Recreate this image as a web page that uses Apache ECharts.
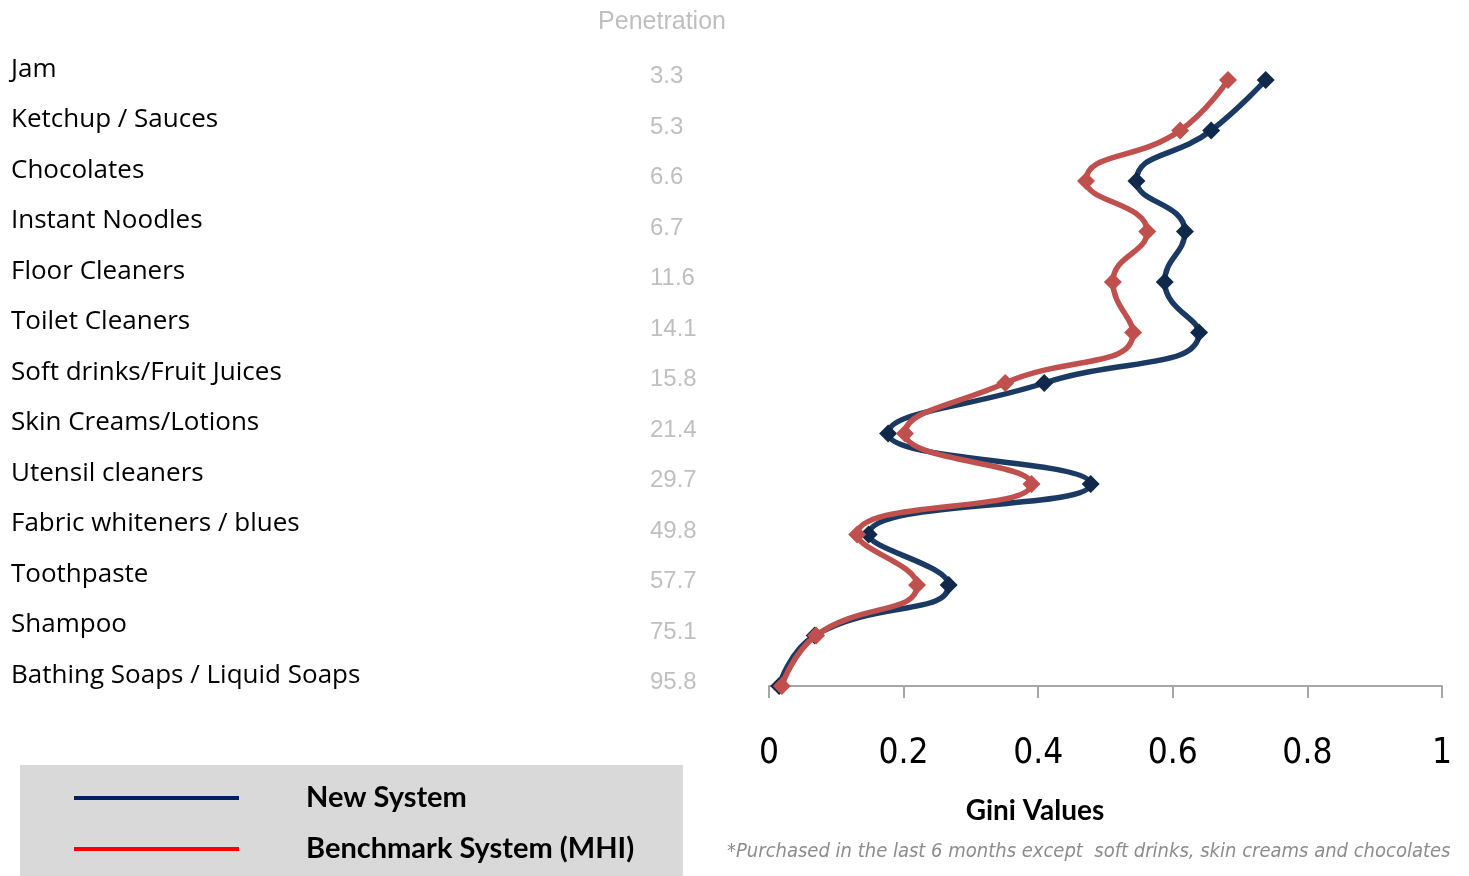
<!DOCTYPE html>
<html>
<head>
<meta charset="utf-8">
<script src="https://cdn.jsdelivr.net/npm/echarts@6/dist/echarts.min.js"></script>
<style>html,body{margin:0;padding:0;background:#fff}#c{width:1469px;height:876px}</style>
</head>
<body>
<div id="c"></div>
<script>
const categories = ['Jam','Ketchup / Sauces','Chocolates','Instant Noodles','Floor Cleaners','Toilet Cleaners','Soft drinks/Fruit Juices','Skin Creams/Lotions','Utensil cleaners','Fabric whiteners / blues','Toothpaste','Shampoo','Bathing Soaps / Liquid Soaps'];
const penetration = ['3.3','5.3','6.6','6.7','11.6','14.1','15.8','21.4','29.7','49.8','57.7','75.1','95.8'];
const newSystem = [0.738,0.657,0.546,0.618,0.588,0.639,0.409,0.177,0.478,0.148,0.267,0.068,0.015];
const benchmark = [0.682,0.611,0.471,0.562,0.511,0.541,0.351,0.202,0.390,0.131,0.220,0.070,0.019];
const xTicks = {min:0, max:1, interval:0.2};
const seriesNames = ['New System','Benchmark System (MHI)'];

const condensed = "'DejaVu Sans Condensed', 'Liberation Sans', sans-serif";
const chart = echarts.init(document.getElementById('c'));
const toPairs = arr => arr.map((v,i) => [v, categories[i]]);
chart.setOption({
  animation:false,
  backgroundColor:'#ffffff',
  graphic:[{type:'rect', z:-10, shape:{x:20,y:765,width:663,height:111}, style:{fill:'#d9d9d9'}}],
  title:[
    {text:'Penetration', left:657, top:5, textAlign:'center', textStyle:{fontFamily:'Liberation Sans', fontSize:25, fontWeight:'normal', color:'#bfbfbf'}},
    {text:'Gini Values', left:1030, top:792, textAlign:'center', textStyle:{fontFamily:'Lato', fontSize:28, fontWeight:'bold', color:'#000'}},
    {text:'*Purchased in the last 6 months except  soft drinks, skin creams and chocolates', left:722, top:837, textStyle:{fontFamily:condensed, fontSize:20, fontStyle:'italic', fontWeight:'normal', color:'#8c8c8c'}}
  ],
  legend:{
    orient:'vertical', left:74, top:781, padding:0,
    itemWidth:165, itemHeight:4, itemGap:17, icon:'rect', selectedMode:false,
    textStyle:{fontFamily:'Lato', fontSize:29, fontWeight:'bold', color:'#000', lineHeight:34, padding:[0,0,0,62]},
    data:[{name:seriesNames[0], itemStyle:{color:'#002060'}},{name:seriesNames[1], itemStyle:{color:'#ff0000'}}]
  },
  grid:{left:769, right:27, top:80, bottom:190, containLabel:false},
  xAxis:{
    type:'value', min:xTicks.min, max:xTicks.max, interval:xTicks.interval,
    axisLine:{show:true, lineStyle:{color:'#a6a6a6', width:2}},
    axisTick:{show:true, length:12, lineStyle:{color:'#a6a6a6', width:2}},
    splitLine:{show:false},
    axisLabel:{margin:50, fontFamily:condensed, fontSize:35, color:'#000'}
  },
  yAxis:[
    {type:'category', data:categories, inverse:true, boundaryGap:false,
     axisLine:{show:false}, axisTick:{show:false}, splitLine:{show:false},
     axisLabel:{align:'left', verticalAlign:'bottom', lineHeight:21, margin:758, fontFamily:'Open Sans', fontSize:26, color:'#000'}},
    {type:'category', data:penetration, inverse:true, boundaryGap:false, position:'left',
     axisLine:{show:false}, axisTick:{show:false}, splitLine:{show:false},
     axisLabel:{align:'left', verticalAlign:'bottom', lineHeight:7, margin:119, fontFamily:'Liberation Sans', fontSize:24, color:'#bfbfbf'}}
  ],
  series:[
    {name:seriesNames[0], type:'line', yAxisIndex:0, data:toPairs(newSystem), smooth:0.5,
     symbol:'diamond', symbolSize:18, itemStyle:{color:'#10284a'}, lineStyle:{color:'#1b3a63', width:5.5}, z:2},
    {name:seriesNames[1], type:'line', yAxisIndex:0, data:toPairs(benchmark), smooth:0.5,
     symbol:'diamond', symbolSize:18, itemStyle:{color:'#c0504d'}, lineStyle:{color:'#c0504d', width:5.5}, z:3}
  ]
});
</script>
</body>
</html>
